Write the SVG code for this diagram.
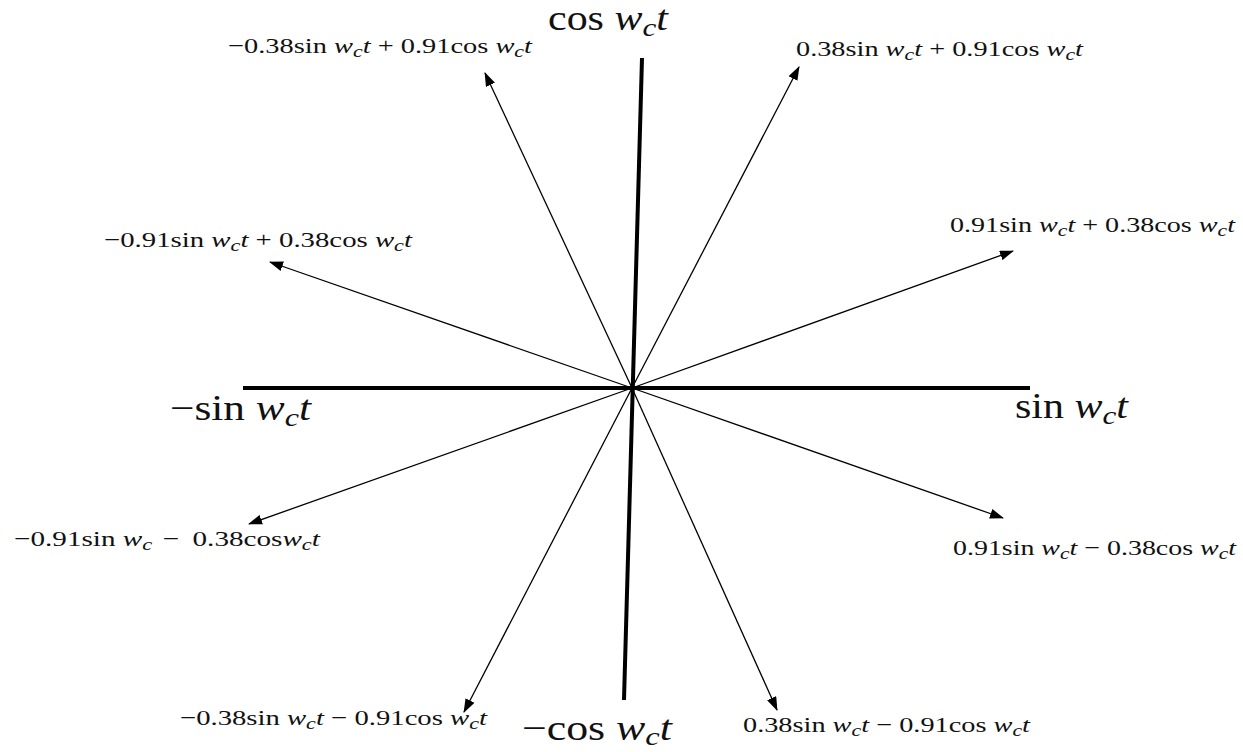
<svg xmlns="http://www.w3.org/2000/svg" width="1243" height="752" viewBox="0 0 1243 752">
<style>
.lbl{font-family:"Liberation Serif","DejaVu Serif",serif;font-size:22px;fill:#111}
.big{font-family:"Liberation Serif","DejaVu Serif",serif;font-size:35px;fill:#111}
.i{font-style:italic}
.axis{stroke:#000;stroke-width:4;fill:none}
.vec{stroke:#000;stroke-width:1.3;fill:none}
</style>
<defs>
<marker id="ah" markerUnits="userSpaceOnUse" markerWidth="14" markerHeight="10" refX="13" refY="5" orient="auto">
<path d="M0,0 L14,5 L0,10 z" fill="#000"/>
</marker>
</defs>
<rect width="1243" height="752" fill="#fff"/>
<g id="connectors">
<line class="axis" x1="243" y1="388" x2="1030" y2="388"/>
<line class="axis" x1="642" y1="58" x2="624" y2="700"/>
<line class="vec" x1="632" y1="388" x2="485" y2="73" marker-end="url(#ah)"/>
<line class="vec" x1="632" y1="388" x2="799" y2="67" marker-end="url(#ah)"/>
<line class="vec" x1="632" y1="388" x2="270" y2="262" marker-end="url(#ah)"/>
<line class="vec" x1="632" y1="388" x2="1013" y2="251" marker-end="url(#ah)"/>
<line class="vec" x1="632" y1="388" x2="249" y2="524" marker-end="url(#ah)"/>
<line class="vec" x1="632" y1="388" x2="1003" y2="518" marker-end="url(#ah)"/>
<line class="vec" x1="632" y1="388" x2="464" y2="712" marker-end="url(#ah)"/>
<line class="vec" x1="632" y1="388" x2="777" y2="710" marker-end="url(#ah)"/>
</g>
<g id="axis-cos">
<text class="big" x="548" y="30" textLength="120" lengthAdjust="spacingAndGlyphs">cos <tspan class="i">w</tspan><tspan class="i" font-size="26" dy="6">c</tspan><tspan class="i" dy="-6">t</tspan></text>
</g>
<g id="axis-neg-cos">
<text class="big" x="522" y="740" textLength="150" lengthAdjust="spacingAndGlyphs">−cos <tspan class="i">w</tspan><tspan class="i" font-size="26" dy="5">c</tspan><tspan class="i" dy="-5">t</tspan></text>
</g>
<g id="axis-sin">
<text class="big" x="1015" y="418" textLength="113" lengthAdjust="spacingAndGlyphs">sin <tspan class="i">w</tspan><tspan class="i" font-size="26" dy="6">c</tspan><tspan class="i" dy="-6">t</tspan></text>
</g>
<g id="axis-neg-sin">
<text class="big" x="170" y="420" textLength="141" lengthAdjust="spacingAndGlyphs">−sin <tspan class="i">w</tspan><tspan class="i" font-size="26" dy="6">c</tspan><tspan class="i" dy="-6">t</tspan></text>
</g>
<g id="v1">
<text class="lbl" x="228" y="53" textLength="304" lengthAdjust="spacingAndGlyphs">−0.38sin <tspan class="i">w</tspan><tspan class="i" font-size="17" dy="4">c</tspan><tspan class="i" dy="-4">t</tspan> + 0.91cos <tspan class="i">w</tspan><tspan class="i" font-size="17" dy="4">c</tspan><tspan class="i" dy="-4">t</tspan></text>
</g>
<g id="v2">
<text class="lbl" x="796" y="56" textLength="287" lengthAdjust="spacingAndGlyphs">0.38sin <tspan class="i">w</tspan><tspan class="i" font-size="17" dy="4">c</tspan><tspan class="i" dy="-4">t</tspan> + 0.91cos <tspan class="i">w</tspan><tspan class="i" font-size="17" dy="4">c</tspan><tspan class="i" dy="-4">t</tspan></text>
</g>
<g id="v3">
<text class="lbl" x="104" y="247" textLength="308" lengthAdjust="spacingAndGlyphs">−0.91sin <tspan class="i">w</tspan><tspan class="i" font-size="17" dy="4">c</tspan><tspan class="i" dy="-4">t</tspan> + 0.38cos <tspan class="i">w</tspan><tspan class="i" font-size="17" dy="4">c</tspan><tspan class="i" dy="-4">t</tspan></text>
</g>
<g id="v4">
<text class="lbl" x="950" y="232" textLength="285" lengthAdjust="spacingAndGlyphs">0.91sin <tspan class="i">w</tspan><tspan class="i" font-size="17" dy="4">c</tspan><tspan class="i" dy="-4">t</tspan> + 0.38cos <tspan class="i">w</tspan><tspan class="i" font-size="17" dy="4">c</tspan><tspan class="i" dy="-4">t</tspan></text>
</g>
<g id="v5">
<text class="lbl" x="14" y="546" textLength="306" lengthAdjust="spacingAndGlyphs">−0.91sin <tspan class="i">w</tspan><tspan class="i" font-size="17" dy="4">c</tspan><tspan dy="-4" dx="8">−</tspan><tspan dx="10">0.38cos</tspan><tspan class="i">w</tspan><tspan class="i" font-size="17" dy="4">c</tspan><tspan class="i" dy="-4">t</tspan></text>
</g>
<g id="v6">
<text class="lbl" x="953" y="555" textLength="283" lengthAdjust="spacingAndGlyphs">0.91sin <tspan class="i">w</tspan><tspan class="i" font-size="17" dy="4">c</tspan><tspan class="i" dy="-4">t</tspan> − 0.38cos <tspan class="i">w</tspan><tspan class="i" font-size="17" dy="4">c</tspan><tspan class="i" dy="-4">t</tspan></text>
</g>
<g id="v7">
<text class="lbl" x="180" y="725" textLength="307" lengthAdjust="spacingAndGlyphs">−0.38sin <tspan class="i">w</tspan><tspan class="i" font-size="17" dy="4">c</tspan><tspan class="i" dy="-4">t</tspan> − 0.91cos <tspan class="i">w</tspan><tspan class="i" font-size="17" dy="4">c</tspan><tspan class="i" dy="-4">t</tspan></text>
</g>
<g id="v8">
<text class="lbl" x="743" y="732" textLength="287" lengthAdjust="spacingAndGlyphs">0.38sin <tspan class="i">w</tspan><tspan class="i" font-size="17" dy="4">c</tspan><tspan class="i" dy="-4">t</tspan> − 0.91cos <tspan class="i">w</tspan><tspan class="i" font-size="17" dy="4">c</tspan><tspan class="i" dy="-4">t</tspan></text>
</g>
</svg>
